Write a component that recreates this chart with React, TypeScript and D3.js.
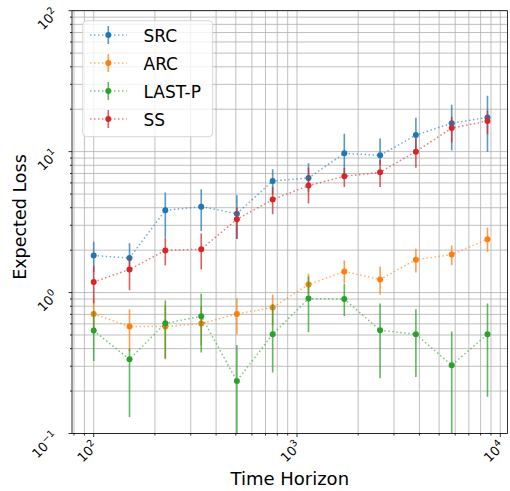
import React from 'react';
import * as d3 from 'd3';

// time horizons (x) and per-method expected loss with error bar ends
const horizons = [100, 150, 225, 338, 506, 759, 1139, 1709, 2563, 3844, 5767, 8650];

const srcMean = [1.83, 1.76, 3.83, 4.07, 3.63, 6.19, 6.5, 9.72, 9.41, 13.1, 15.9, 17.5];
const srcLow = [1.4, 1.42, 2.45, 2.73, 2.4, 4.98, 5.2, 6.7, 8.0, 10.4, 10.2, 10.0];
const srcHigh = [2.29, 2.24, 5.12, 5.4, 4.9, 7.49, 8.26, 13.4, 12.4, 17.4, 21.5, 24.9];

const arcMean = [0.705, 0.574, 0.574, 0.603, 0.705, 0.783, 1.14, 1.41, 1.24, 1.71, 1.86, 2.39];
const arcLow = [0.512, 0.385, 0.336, 0.423, 0.506, 0.586, 0.97, 1.16, 0.97, 1.39, 1.56, 1.95];
const arcHigh = [0.906, 0.762, 0.81, 0.8, 0.91, 0.97, 1.36, 1.69, 1.53, 2.05, 2.16, 2.89];

const lastpMean = [0.537, 0.336, 0.605, 0.679, 0.236, 0.506, 0.906, 0.9, 0.54, 0.506, 0.305, 0.506];
const lastpLow = [0.327, 0.131, 0.34, 0.375, 0.08, 0.271, 0.523, 0.682, 0.247, 0.252, 0.08, 0.182];
const lastpHigh = [0.741, 0.4, 0.88, 0.98, 0.425, 0.826, 1.3, 1.15, 0.836, 0.762, 0.529, 0.836];

const ssMean = [1.19, 1.46, 1.99, 2.03, 3.31, 4.57, 5.74, 6.68, 7.13, 10.0, 14.7, 16.5];
const ssLow = [0.84, 1.04, 1.56, 1.46, 2.41, 3.59, 4.28, 5.61, 5.61, 7.7, 11.6, 13.3];
const ssHigh = [1.54, 1.78, 2.44, 2.62, 4.0, 5.61, 7.7, 7.65, 8.72, 12.4, 17.7, 19.6];

const methodNames = ['SRC', 'ARC', 'LAST-P', 'SS'];
const methodColors = ['#1f77b4', '#ff7f0e', '#2ca02c', '#d62728'];

const xTicks = [100, 1000, 10000];
const xTickExp = ['2', '3', '4'];
const yTicks = [0.1, 1, 10, 100];
const yTickExp = ['\u22121', '0', '1', '2'];

const series = [
  { mean: srcMean, low: srcLow, high: srcHigh },
  { mean: arcMean, low: arcLow, high: arcHigh },
  { mean: lastpMean, low: lastpLow, high: lastpHigh },
  { mean: ssMean, low: ssLow, high: ssHigh },
].map((s, i) => ({ ...s, name: methodNames[i], color: methodColors[i] }));

const W = 510;
const H = 491;
const left = 72;
const right = 507.5;
const top = 10.7;
const bottom = 433.5;
const font = 'DejaVu Sans, sans-serif';

const x = d3.scaleLog().domain([78.2, 10850]).range([left, right]);
const y = d3.scaleLog().domain([0.1, 100]).range([bottom, top]);

// minor positions 2..9 x each decade, kept within the axes
const minorX = d3.range(1, 5).flatMap(e => d3.range(2, 10).map(m => m * 10 ** e))
  .filter(v => v >= x.domain()[0] && v <= x.domain()[1]);
const minorY = d3.range(-1, 2).flatMap(e => d3.range(2, 10).map(m => m * 10 ** e));

const line = d3.line<number>()
  .x((_, i) => x(horizons[i]))
  .y(d => y(d));

const gridColor = '#b0b0b0';

const App = () => {
  return (
    <div style={{ position: 'absolute', left: 0, top: 0 }}>
      <svg width={W} height={H} style={{ display: 'block', background: '#fff' }}>
        <defs>
          <clipPath id="plot-clip">
            <rect x={left} y={top} width={right - left} height={bottom - top} />
          </clipPath>
        </defs>

        {/* grid, both major and minor */}
        <g stroke={gridColor} strokeWidth={0.8}>
          {[...xTicks, ...minorX].filter(v => x(v) <= right).map(v => (
            <line key={'gx' + v} x1={x(v)} x2={x(v)} y1={top} y2={bottom} />
          ))}
          {[...yTicks, ...minorY].map(v => (
            <line key={'gy' + v} x1={left} x2={right} y1={y(v)} y2={y(v)} />
          ))}
        </g>

        {/* data */}
        <g clipPath="url(#plot-clip)">
          {series.map(s => (
            <g key={s.name}>
              <path d={line(s.mean) || ''} fill="none" stroke={s.color} strokeWidth={1.5}
                strokeDasharray="1.5 2.5" strokeOpacity={0.6} />
              {s.mean.map((_, i) => (
                <line key={i} x1={x(horizons[i])} x2={x(horizons[i])}
                  y1={y(s.low[i])} y2={y(s.high[i])}
                  stroke={s.color} strokeWidth={1.6} strokeOpacity={0.75} />
              ))}
              {s.mean.map((v, i) => (
                <circle key={'m' + i} cx={x(horizons[i])} cy={y(v)} r={3} fill={s.color} />
              ))}
            </g>
          ))}
        </g>

        {/* spines */}
        <rect x={left} y={top} width={right - left} height={bottom - top}
          fill="none" stroke="#000" strokeWidth={0.8} />

        {/* ticks */}
        <g stroke="#000" strokeWidth={0.8}>
          {xTicks.map(v => (
            <line key={'tx' + v} x1={x(v)} x2={x(v)} y1={bottom} y2={bottom + 3.5} />
          ))}
          {minorX.map(v => (
            <line key={'mx' + v} x1={x(v)} x2={x(v)} y1={bottom} y2={bottom + 2} />
          ))}
          {yTicks.map(v => (
            <line key={'ty' + v} x1={left} x2={left - 3.5} y1={y(v)} y2={y(v)} />
          ))}
          {minorY.map(v => (
            <line key={'my' + v} x1={left} x2={left - 2} y1={y(v)} y2={y(v)} />
          ))}
        </g>

        {xTicks.map((v, i) => (
          <text key={'lx' + v} transform={`translate(${x(v) + 5},${447}) rotate(-45)`}
            textAnchor="end" fontFamily={font} fontSize={13} fill="#000">
            10<tspan dy={-5.5} fontSize={9.5}>{xTickExp[i]}</tspan>
          </text>
        ))}
        {yTicks.map((v, i) => (
          <text key={'ly' + v} transform={`translate(59,${y(v) + 4})  rotate(-45)`}
            textAnchor="end" fontFamily={font} fontSize={13} fill="#000">
            10<tspan dy={-5.5} fontSize={9.5}>{yTickExp[i]}</tspan>
          </text>
        ))}

        {/* axis labels */}
        <text x={(left + right) / 2} y={485} textAnchor="middle" fontFamily={font}
          fontSize={18} fill="#000">Time Horizon</text>
        <text transform={`translate(26,217) rotate(-90)`} textAnchor="middle"
          fontFamily={font} fontSize={17.5} fill="#000">Expected Loss</text>

        {/* legend */}
        <rect x={82.7} y={20.7} width={130} height={116} rx={4} fill="#fff" fillOpacity={0.8}
          stroke="#cccccc" strokeWidth={0.8} />
        {series.map((s, i) => {
          const ry = 35 + i * 28;
          return (
            <g key={'lg' + s.name}>
              <line x1={90} x2={126.7} y1={ry} y2={ry} stroke={s.color} strokeWidth={1.5}
                strokeDasharray="1.5 2.5" strokeOpacity={0.6} />
              <line x1={108.3} x2={108.3} y1={ry - 9} y2={ry + 9} stroke={s.color}
                strokeWidth={1.6} strokeOpacity={0.75} />
              <circle cx={108.3} cy={ry} r={3} fill={s.color} />
              <text x={143.5} y={ry + 6.5} fontFamily={font} fontSize={17} fill="#000">{s.name}</text>
            </g>
          );
        })}
      </svg>
    </div>
  );
};

export default App;
